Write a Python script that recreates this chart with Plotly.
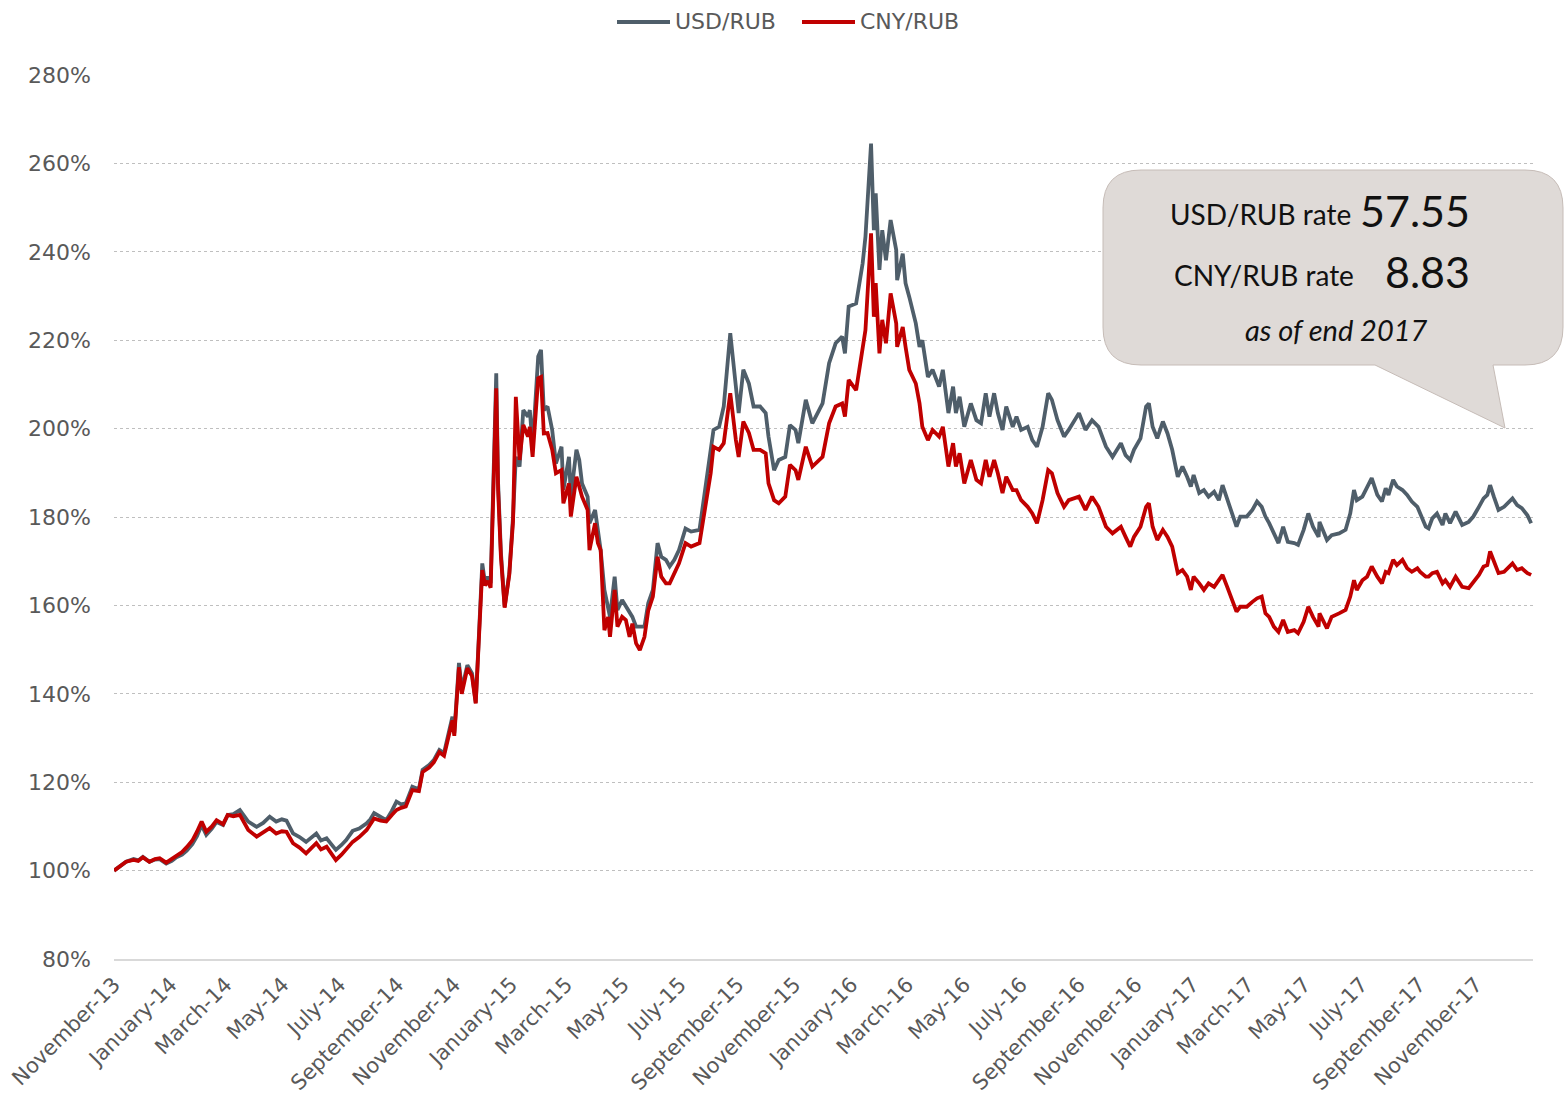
import plotly.graph_objects as go

# ---------------- data (index, start = 100%) ----------------
dates = [
    "2013-11-01", "2013-11-07", "2013-11-14", "2013-11-22", "2013-11-27", "2013-12-02", "2013-12-09",
    "2013-12-15", "2013-12-20", "2013-12-27", "2014-01-02", "2014-01-07", "2014-01-13", "2014-01-18",
    "2014-01-24", "2014-01-29", "2014-02-03", "2014-02-08", "2014-02-14", "2014-02-19", "2014-02-26",
    "2014-03-03", "2014-03-09", "2014-03-16", "2014-03-20", "2014-03-25", "2014-04-03", "2014-04-10",
    "2014-04-17", "2014-04-24", "2014-04-30", "2014-05-05", "2014-05-12", "2014-05-19", "2014-05-26",
    "2014-06-06", "2014-06-11", "2014-06-17", "2014-06-22", "2014-06-27", "2014-07-03", "2014-07-08",
    "2014-07-15", "2014-07-22", "2014-07-30", "2014-08-03", "2014-08-07", "2014-08-14", "2014-08-20",
    "2014-08-26", "2014-08-31", "2014-09-05", "2014-09-10", "2014-09-17", "2014-09-24", "2014-09-28",
    "2014-10-05", "2014-10-10", "2014-10-16", "2014-10-21", "2014-10-25", "2014-10-30", "2014-11-01",
    "2014-11-06", "2014-11-09", "2014-11-15", "2014-11-20", "2014-11-24", "2014-11-27", "2014-11-29",
    "2014-12-01", "2014-12-04", "2014-12-07", "2014-12-10", "2014-12-12", "2014-12-16", "2014-12-18",
    "2014-12-21", "2014-12-25", "2014-12-30", "2015-01-03", "2015-01-06", "2015-01-10", "2015-01-14",
    "2015-01-19", "2015-01-21", "2015-01-24", "2015-01-30", "2015-02-02", "2015-02-05", "2015-02-09",
    "2015-02-14", "2015-02-18", "2015-02-24", "2015-02-26", "2015-03-04", "2015-03-06", "2015-03-12",
    "2015-03-15", "2015-03-18", "2015-03-24", "2015-03-26", "2015-04-01", "2015-04-04", "2015-04-07",
    "2015-04-11", "2015-04-15", "2015-04-17", "2015-04-22", "2015-04-25", "2015-04-30", "2015-05-04",
    "2015-05-08", "2015-05-11", "2015-05-15", "2015-05-19", "2015-05-24", "2015-05-28", "2015-06-02",
    "2015-06-07", "2015-06-11", "2015-06-16", "2015-06-20", "2015-06-25", "2015-06-30", "2015-07-07",
    "2015-07-13", "2015-07-22", "2015-07-27", "2015-08-03", "2015-08-06", "2015-08-12", "2015-08-17",
    "2015-08-24", "2015-08-30", "2015-09-02", "2015-09-07", "2015-09-13", "2015-09-18", "2015-09-25",
    "2015-10-01", "2015-10-04", "2015-10-10", "2015-10-15", "2015-10-22", "2015-10-27", "2015-11-02",
    "2015-11-05", "2015-11-13", "2015-11-20", "2015-12-01", "2015-12-08", "2015-12-15", "2015-12-22",
    "2015-12-25", "2015-12-29", "2016-01-06", "2016-01-13", "2016-01-16", "2016-01-22", "2016-01-25",
    "2016-01-27", "2016-01-31", "2016-02-03", "2016-02-07", "2016-02-12", "2016-02-18", "2016-02-19",
    "2016-02-25", "2016-02-28", "2016-03-03", "2016-03-10", "2016-03-14", "2016-03-17", "2016-03-23",
    "2016-03-28", "2016-04-04", "2016-04-08", "2016-04-14", "2016-04-19", "2016-04-22", "2016-04-26",
    "2016-05-01", "2016-05-08", "2016-05-14", "2016-05-19", "2016-05-24", "2016-05-28", "2016-06-02",
    "2016-06-06", "2016-06-11", "2016-06-15", "2016-06-22", "2016-06-26", "2016-07-01", "2016-07-08",
    "2016-07-13", "2016-07-18", "2016-07-24", "2016-07-30", "2016-08-03", "2016-08-09", "2016-08-16",
    "2016-08-21", "2016-09-01", "2016-09-08", "2016-09-15", "2016-09-22", "2016-09-30", "2016-10-07",
    "2016-10-16", "2016-10-21", "2016-10-26", "2016-10-30", "2016-11-06", "2016-11-12", "2016-11-15",
    "2016-11-19", "2016-11-24", "2016-11-30", "2016-12-05", "2016-12-10", "2016-12-16", "2016-12-21",
    "2016-12-26", "2016-12-30", "2017-01-02", "2017-01-08", "2017-01-13", "2017-01-18", "2017-01-24",
    "2017-01-29", "2017-02-02", "2017-02-07", "2017-02-12", "2017-02-17", "2017-02-21", "2017-02-28",
    "2017-03-06", "2017-03-11", "2017-03-16", "2017-03-20", "2017-03-24", "2017-03-29", "2017-04-03",
    "2017-04-08", "2017-04-13", "2017-04-20", "2017-04-24", "2017-04-30", "2017-05-05", "2017-05-10",
    "2017-05-16", "2017-05-17", "2017-05-25", "2017-05-30", "2017-06-07", "2017-06-14", "2017-06-19",
    "2017-06-23", "2017-06-26", "2017-07-02", "2017-07-07", "2017-07-12", "2017-07-18", "2017-07-23",
    "2017-07-27", "2017-07-30", "2017-08-04", "2017-08-08", "2017-08-14", "2017-08-19", "2017-08-24",
    "2017-08-30", "2017-09-02", "2017-09-08", "2017-09-11", "2017-09-15", "2017-09-20", "2017-09-26",
    "2017-09-29", "2017-10-04", "2017-10-10", "2017-10-17", "2017-10-24", "2017-10-29", "2017-11-04",
    "2017-11-09", "2017-11-13", "2017-11-16", "2017-11-20", "2017-11-25", "2017-12-01", "2017-12-10",
    "2017-12-15", "2017-12-20", "2017-12-26", "2017-12-30",
]

usd_rub = [
    100.0, 101.0, 102.0, 102.6, 102.3, 103.1, 102.0, 102.5, 102.6, 101.6, 102.2, 103.0, 103.6, 104.5,
    106.0, 107.8, 110.3, 108.1, 109.5, 111.0, 110.3, 112.6, 112.8, 113.7, 112.5, 111.1, 109.9, 110.8,
    112.2, 111.1, 111.6, 111.3, 108.4, 107.6, 106.5, 108.4, 106.8, 107.3, 106.0, 104.7, 105.8, 106.9,
    109.0, 109.5, 110.7, 111.6, 113.0, 112.0, 111.4, 113.5, 115.6, 115.0, 115.2, 119.0, 118.4, 122.8,
    123.9, 125.0, 127.3, 126.6, 129.9, 134.8, 131.1, 147.0, 141.0, 146.5, 144.6, 138.0, 151.4, 160.0,
    169.5, 165.0, 166.5, 165.0, 178.6, 212.5, 187.6, 172.0, 159.7, 167.3, 180.1, 193.6, 191.4, 204.2,
    202.7, 204.2, 195.9, 216.3, 217.8, 204.2, 205.0, 199.7, 192.1, 195.9, 186.1, 193.6, 184.6, 195.2,
    192.9, 187.6, 184.6, 178.6, 181.6, 177.1, 172.5, 163.5, 159.7, 157.4, 166.5, 159.0, 161.2, 159.7,
    158.2, 157.4, 155.2, 155.2, 155.2, 160.5, 163.5, 174.1, 171.0, 170.3, 168.8, 170.3, 172.5, 177.4,
    176.7, 177.1, 184.6, 195.2, 199.7, 200.4, 205.0, 221.6, 208.7, 203.5, 213.3, 210.2, 205.0, 205.0,
    203.5, 198.2, 190.6, 192.9, 193.6, 200.8, 199.7, 196.7, 206.5, 201.2, 205.7, 214.8, 219.3, 220.8,
    217.0, 227.6, 228.3, 237.4, 243.4, 264.5, 244.9, 253.2, 235.9, 244.9, 238.1, 247.2, 240.4, 233.6,
    239.6, 232.9, 229.8, 223.8, 218.5, 220.0, 211.7, 213.3, 209.5, 213.3, 203.5, 209.5, 203.5, 207.2,
    200.4, 205.7, 201.9, 201.2, 208.0, 202.7, 208.0, 203.5, 199.7, 205.0, 200.4, 202.7, 199.7, 200.4,
    197.4, 195.9, 200.4, 208.0, 206.5, 201.9, 198.2, 199.7, 203.5, 199.7, 201.9, 200.4, 195.9, 193.6,
    196.7, 194.0, 192.9, 195.2, 197.8, 205.0, 205.7, 200.4, 197.8, 201.6, 198.9, 195.2, 189.1, 191.4,
    189.1, 186.9, 189.5, 185.4, 186.1, 184.6, 185.7, 183.8, 187.2, 184.2, 180.8, 177.8, 180.1, 180.1,
    181.6, 183.5, 182.3, 180.1, 178.6, 176.3, 174.1, 177.8, 174.4, 174.1, 173.7, 177.1, 180.8, 177.8,
    175.5, 178.9, 174.8, 175.9, 176.3, 177.1, 180.8, 186.1, 183.8, 184.6, 186.9, 188.8, 185.0, 183.5,
    186.5, 185.0, 188.4, 186.9, 186.1, 185.0, 183.5, 182.3, 180.8, 177.8, 177.4, 179.7, 180.8, 178.2,
    180.8, 178.6, 181.2, 178.2, 178.9, 180.1, 182.3, 184.2, 185.0, 187.2, 184.6, 181.6, 182.3, 184.2,
    182.7, 182.0, 180.4, 178.6,
]

cny_rub = [
    100.0, 101.0, 102.0, 102.4, 102.2, 103.0, 102.0, 102.6, 102.8, 101.8, 102.6, 103.5, 104.2, 105.3,
    106.8, 108.8, 111.1, 108.8, 110.0, 111.4, 110.5, 112.6, 112.3, 112.6, 111.2, 109.2, 107.7, 108.6,
    109.6, 108.4, 108.9, 108.8, 106.2, 105.2, 103.9, 106.2, 104.8, 105.4, 104.0, 102.4, 103.6, 104.7,
    106.5, 107.6, 109.2, 110.5, 111.8, 111.3, 111.1, 112.6, 113.7, 114.2, 114.5, 118.2, 118.0, 122.3,
    123.3, 124.5, 126.8, 126.0, 129.2, 134.0, 130.5, 146.0, 140.0, 145.8, 144.0, 137.8, 150.8, 159.0,
    168.0, 164.5, 165.5, 164.0, 177.0, 209.1, 186.0, 171.0, 159.5, 167.0, 179.0, 207.2, 192.9, 200.8,
    198.2, 200.4, 193.6, 211.4, 211.7, 198.9, 199.0, 195.2, 189.9, 190.6, 183.1, 187.6, 180.1, 189.1,
    186.9, 184.6, 181.6, 172.5, 178.6, 174.1, 172.5, 154.4, 157.4, 152.9, 163.5, 155.2, 157.4, 156.7,
    152.9, 155.9, 151.4, 149.9, 152.9, 158.8, 162.0, 171.0, 166.5, 165.0, 165.0, 167.3, 169.5, 174.1,
    173.3, 174.1, 180.8, 189.9, 195.9, 195.2, 196.7, 208.0, 197.4, 193.6, 201.6, 199.0, 195.2, 195.2,
    194.4, 187.6, 183.8, 183.1, 184.6, 191.8, 190.6, 188.4, 195.9, 191.4, 193.6, 201.2, 205.0, 205.7,
    202.7, 211.0, 208.7, 219.3, 222.3, 244.2, 225.3, 232.9, 217.0, 224.6, 219.3, 230.6, 223.8, 218.5,
    223.0, 218.5, 213.3, 210.2, 205.7, 200.4, 197.4, 199.7, 198.2, 200.4, 191.4, 196.7, 191.4, 194.4,
    187.6, 192.9, 188.4, 187.6, 192.9, 189.1, 192.9, 189.9, 185.4, 189.1, 186.1, 186.1, 183.8, 182.3,
    180.8, 178.6, 183.8, 190.6, 189.9, 185.4, 182.3, 183.8, 184.6, 181.6, 184.6, 182.3, 177.8, 176.3,
    177.8, 175.5, 173.3, 175.5, 177.8, 182.3, 183.1, 177.8, 174.8, 177.1, 175.5, 173.3, 167.3, 168.0,
    166.5, 163.5, 166.5, 165.0, 163.5, 165.0, 164.2, 165.7, 166.9, 164.2, 161.2, 158.6, 159.7, 159.7,
    160.8, 161.6, 162.0, 158.2, 157.4, 155.2, 154.0, 156.7, 154.0, 154.4, 153.7, 156.3, 159.7, 157.4,
    155.2, 158.2, 154.8, 157.4, 158.2, 159.0, 162.0, 165.7, 163.5, 165.7, 166.5, 168.8, 166.5, 165.0,
    167.6, 167.3, 170.3, 169.1, 170.3, 168.4, 167.6, 168.4, 167.6, 166.5, 166.5, 167.3, 167.6, 165.0,
    165.7, 164.2, 166.5, 164.2, 163.9, 165.4, 166.9, 168.8, 169.1, 172.2, 169.9, 167.3, 167.6, 169.5,
    168.0, 168.4, 167.3, 166.9,
]

series_names = ["USD/RUB", "CNY/RUB"]
series_colors = ["#4F5E6A", "#C00000"]

tick_dates = [
    "2013-11-01", "2014-01-01", "2014-03-01", "2014-05-01", "2014-07-01", "2014-09-01", "2014-11-01",
    "2015-01-01", "2015-03-01", "2015-05-01", "2015-07-01", "2015-09-01", "2015-11-01",
    "2016-01-01", "2016-03-01", "2016-05-01", "2016-07-01", "2016-09-01", "2016-11-01",
    "2017-01-01", "2017-03-01", "2017-05-01", "2017-07-01", "2017-09-01", "2017-11-01",
]
tick_labels = [
    "November-13", "January-14", "March-14", "May-14", "July-14", "September-14", "November-14",
    "January-15", "March-15", "May-15", "July-15", "September-15", "November-15",
    "January-16", "March-16", "May-16", "July-16", "September-16", "November-16",
    "January-17", "March-17", "May-17", "July-17", "September-17", "November-17",
]
y_ticks = [80, 100, 120, 140, 160, 180, 200, 220, 240, 260, 280]

callout_usd_label = "USD/RUB rate"
callout_usd_value = "57.55"
callout_cny_label = "CNY/RUB rate"
callout_cny_value = "8.83"
callout_note = "as of end 2017"

# ---------------- layout geometry ----------------
W, H = 1564, 1097
ML, MR, MT, MB = 114, 31, 75, 138
PW, PH = W - ML - MR, H - MT - MB


def px(x):
    return (x - ML) / PW


def py(y):
    return (H - MB - y) / PH


TXT = "#595959"
FONT = "DejaVu Sans, Verdana, sans-serif"
CFONT = "Lato, Open Sans, sans-serif"

fig = go.Figure()
for name, vals, col in zip(series_names, [usd_rub, cny_rub], series_colors):
    fig.add_trace(go.Scatter(x=dates, y=vals, name=name, mode="lines",
                             line=dict(color=col, width=3.8), showlegend=False))

# custom legend (long line keys like the original)
legend_x0 = [617, 802]
for name, col, lx in zip(series_names, series_colors, legend_x0):
    fig.add_shape(type="line", xref="paper", yref="paper",
                  x0=px(lx), x1=px(lx + 53), y0=py(22), y1=py(22),
                  line=dict(color=col, width=4))
    fig.add_annotation(x=px(lx + 56), y=py(22), xref="paper", yref="paper", text=name,
                       xanchor="left", yanchor="middle", showarrow=False,
                       font=dict(family=FONT, size=22, color=TXT))

# callout bubble
L_, R_, T_, B_, r = 1103, 1563, 170, 365, 38
tail_a, tail_b, tip = 1375, 1493, (1505, 428)
path = (
    f"M {px(L_ + r)},{py(T_)} L {px(R_ - r)},{py(T_)} "
    f"Q {px(R_)},{py(T_)} {px(R_)},{py(T_ + r)} "
    f"L {px(R_)},{py(B_ - r)} Q {px(R_)},{py(B_)} {px(R_ - r)},{py(B_)} "
    f"L {px(tail_b)},{py(B_)} L {px(tip[0])},{py(tip[1])} L {px(tail_a)},{py(B_)} "
    f"L {px(L_ + r)},{py(B_)} Q {px(L_)},{py(B_)} {px(L_)},{py(B_ - r)} "
    f"L {px(L_)},{py(T_ + r)} Q {px(L_)},{py(T_)} {px(L_ + r)},{py(T_)} Z"
)
fig.add_shape(type="path", path=path, xref="paper", yref="paper",
              fillcolor="#DFDAD7", line=dict(color="#C6BCB7", width=1), layer="above")

ann = [
    dict(x=px(1353), y=py(214), text=callout_usd_label, xanchor="right", font_size=28),
    dict(x=px(1358), y=py(210), text=callout_usd_value, xanchor="left", font_size=43),
    dict(x=px(1356), y=py(275), text=callout_cny_label, xanchor="right", font_size=28),
    dict(x=px(1383), y=py(271), text=callout_cny_value, xanchor="left", font_size=43),
    dict(x=px(1336), y=py(329), text=f"<i>{callout_note}</i>", xanchor="center", font_size=29),
]
for a in ann:
    fig.add_annotation(x=a["x"], y=a["y"], xref="paper", yref="paper", text=a["text"],
                       xanchor=a["xanchor"], yanchor="middle", showarrow=False,
                       font=dict(family=CFONT, size=a["font_size"], color="#111111"))

fig.update_layout(
    width=W, height=H,
    margin=dict(l=ML, r=MR, t=MT, b=MB, autoexpand=False),
    paper_bgcolor="white", plot_bgcolor="white",
    showlegend=False,
    xaxis=dict(type="date", range=["2013-11-01", "2018-01-01"],
               tickmode="array", tickvals=tick_dates, ticktext=tick_labels,
               tickangle=-45, tickfont=dict(family=FONT, size=21, color=TXT),
               showgrid=False, zeroline=False, showline=True, linecolor="#D9D9D9",
               linewidth=2, ticks="", ticklabelstandoff=3),
    yaxis=dict(range=[80, 280], tickmode="array", tickvals=y_ticks,
               ticktext=[f"{v}%" for v in y_ticks],
               tickfont=dict(family=FONT, size=22, color=TXT),
               showgrid=True, gridcolor="#BFBFBF", griddash="dot", gridwidth=1,
               zeroline=False, showline=False, ticks="", ticklabelstandoff=22),
)

fig.write_html("out.html")
